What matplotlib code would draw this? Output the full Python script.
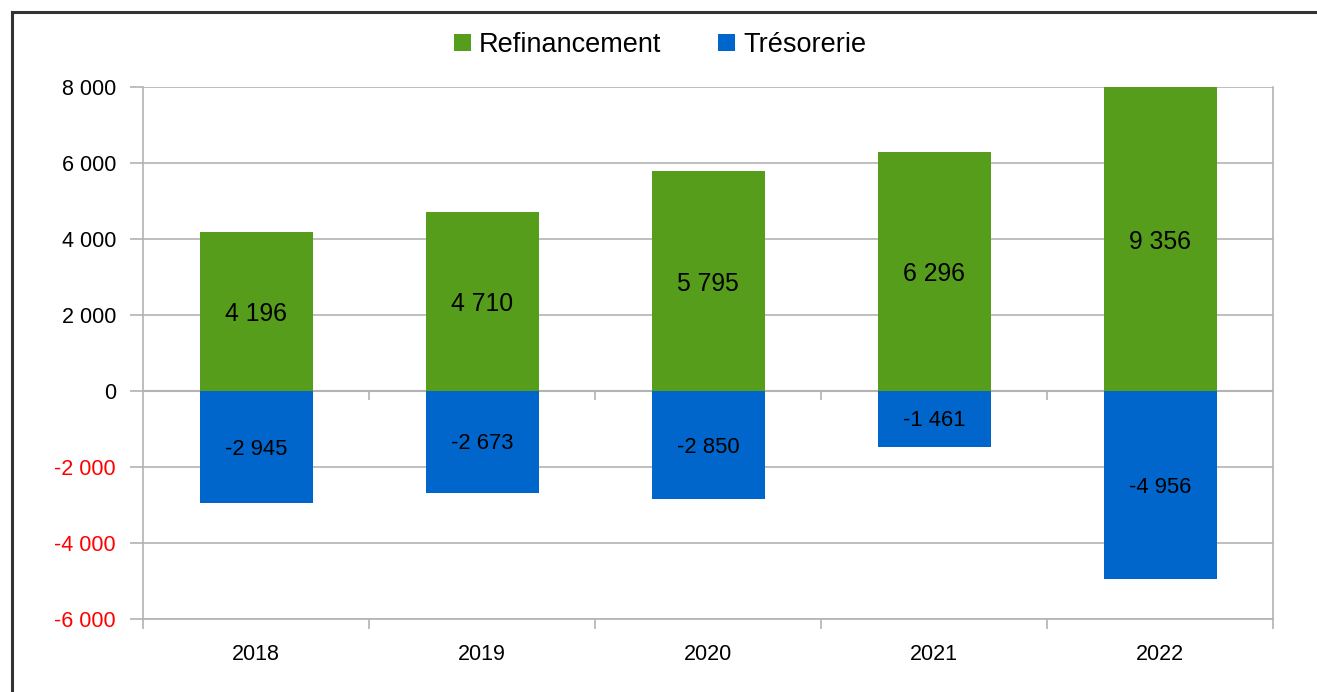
import matplotlib
matplotlib.use("Agg")
import matplotlib.pyplot as plt
from matplotlib.lines import Line2D
import numpy as np

plt.rcParams['font.family'] = ['Liberation Sans', 'DejaVu Sans']

years = ['2018', '2019', '2020', '2021', '2022']
refinancement = [4196, 4710, 5795, 6296, 9356]
tresorerie = [-2945, -2673, -2850, -1461, -4956]
yticks = [-6000, -4000, -2000, 0, 2000, 4000, 6000, 8000]

green = '#579D1C'
blue = '#0066CC'
grey = '#b3b3b3'

def fmt(v):
    return f"{v:,}".replace(",", " ")

fig = plt.figure(figsize=(13.17, 6.92), dpi=100)
ax = fig.add_axes([143/1317, 1 - 619/692, (1273 - 143)/1317, (619 - 87)/692])

x = np.arange(len(years))
ax.bar(x, refinancement, width=0.5, color=green, label='Refinancement', zorder=3)
ax.bar(x, tresorerie, width=0.5, color=blue, label='Trésorerie', zorder=3)

ax.set_xlim(-0.5, len(years) - 0.5)
ax.set_ylim(yticks[0], yticks[-1])
ax.set_yticks(yticks)
ax.set_yticklabels([fmt(v) for v in yticks])
for lab, v in zip(ax.get_yticklabels(), yticks):
    lab.set_color('red' if v < 0 else 'black')

ax.set_xticks(x)
ax.set_xticklabels(years)
ax.set_xticks(np.arange(len(years) + 1) - 0.5, minor=True)
ax.tick_params(axis='x', which='major', length=0, pad=18, labelsize=15.5)
ax.tick_params(axis='x', which='minor', length=7.5, color=grey, width=1.2)
ax.tick_params(axis='y', length=9.5, pad=10, color=grey, width=1.2, labelsize=15.5)

ax.grid(axis='y', color=grey, linewidth=1.2, zorder=0)
ax.axhline(0, color=grey, linewidth=1.5, zorder=2)
ax.vlines(np.arange(1, len(years)) - 0.5, -250, 0, color=grey, linewidth=1.2, zorder=2)
for s in ['left', 'right', 'bottom']:
    ax.spines[s].set_color(grey)
    ax.spines[s].set_linewidth(1.2)
ax.spines['top'].set_visible(False)

# labels centred on the visible part of each bar
top = yticks[-1]
for i in x:
    ax.annotate(fmt(refinancement[i]), (i, min(refinancement[i], top) / 2),
                xytext=(0, -2), textcoords='offset points',
                ha='center', va='center', fontsize=17.8, zorder=4)
    ax.annotate(fmt(tresorerie[i]), (i, tresorerie[i] / 2),
                xytext=(0, -1.5), textcoords='offset points',
                ha='center', va='center', fontsize=15.8, zorder=4)

fig.legend(loc='center', bbox_to_anchor=(660/1317, 1 - 45/692), ncol=2,
           frameon=False, fontsize=19.5, handlelength=0.63, handleheight=0.63,
           handletextpad=0.3, columnspacing=2.1)

# outer frame (only left and top edges visible)
fy = 1 - 12/692
fx = 11.5/1317
fig.add_artist(Line2D([fx, fx], [0, fy], transform=fig.transFigure, color='#333333', linewidth=2.2))
fig.add_artist(Line2D([fx, 1], [fy, fy], transform=fig.transFigure, color='#333333', linewidth=2.2))

fig.savefig('out.png', dpi=100)
